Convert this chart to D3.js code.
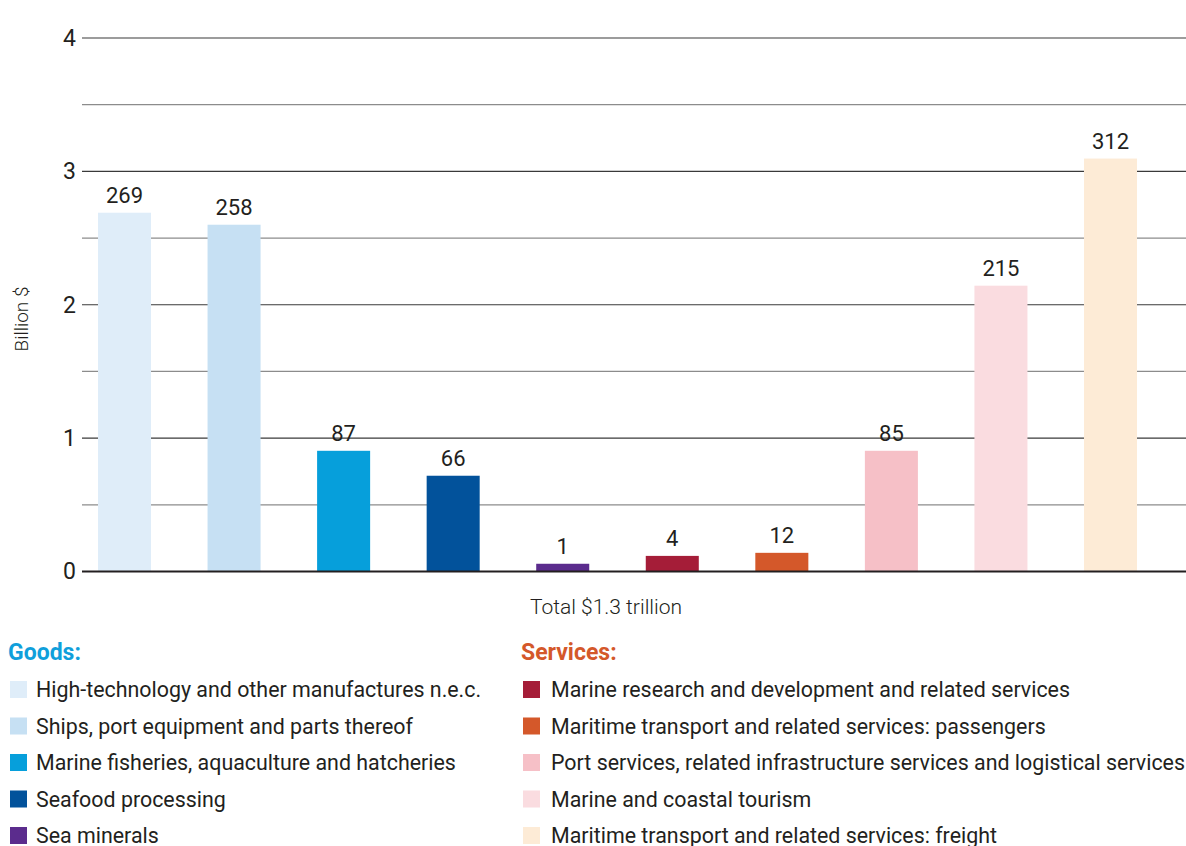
<html lang='en'>
<head>
  <meta charset='UTF-8'/>
  <title>Ocean economy exports by sector</title>
  <script src='https://d3js.org/d3.v7.min.js'></script>
  <style>
    body { margin: 0; background: #fff; }
    svg text { font-family: Roboto, 'Open Sans', sans-serif; fill: #231f20; }
  </style>
</head>
<body>
  <svg id='chart' width='1186' height='846'></svg>
</body>
</html>

<script>

// categories (legend order = bar order)
const categories = [
  'High-technology and other manufactures n.e.c.',
  'Ships, port equipment and parts thereof',
  'Marine fisheries, aquaculture and hatcheries',
  'Seafood processing',
  'Sea minerals',
  'Marine research and development and related services',
  'Maritime transport and related services: passengers',
  'Port services, related infrastructure services and logistical services',
  'Marine and coastal tourism',
  'Maritime transport and related services: freight'
];
const groups = ['goods', 'goods', 'goods', 'goods', 'goods',
                'services', 'services', 'services', 'services', 'services'];
// bar heights as drawn against the axis
const barHeights = [2.69, 2.60, 0.905, 0.718, 0.058, 0.117, 0.14, 0.905, 2.143, 3.096];
// printed labels above bars
const valueLabels = ['269', '258', '87', '66', '1', '4', '12', '85', '215', '312'];
const colors = ['#dfedf9', '#c6e0f3', '#069fdb', '#02529b', '#5b2c8d',
                '#a51d38', '#d4582a', '#f6c0c7', '#fadce0', '#fdebd6'];
const yTicks = [0, 1, 2, 3, 4];
const gridTicks = [0.5, 1, 1.5, 2, 2.5, 3, 3.5, 4];

const svg = d3.select('#chart');

const x = d3.scaleBand()
  .domain(d3.range(categories.length))
  .range([82, 1153])
  .paddingInner(0.516)
  .paddingOuter(0.146);

const y = d3.scaleLinear()
  .domain([0, 4])
  .range([571.5, 38]);

// gridlines
svg.append('g').selectAll('line')
  .data(gridTicks).enter()
  .append('line')
  .attr('x1', 82).attr('x2', 1186)
  .attr('y1', d => y(d)).attr('y2', d => y(d))
  .attr('stroke', d => d % 1 === 0 ? '#3a3a3a' : '#8c8c8c')
  .attr('stroke-width', 1.2);

// y axis labels
const yAxis = d3.axisLeft(y).tickValues(yTicks).tickFormat(d3.format('d')).tickSize(0).tickPadding(6);
const yg = svg.append('g').attr('transform', 'translate(82,0)').call(yAxis);
yg.select('.domain').remove();
yg.selectAll('text')
  .style('font-size', '23px')
  .style('font-family', 'Roboto, sans-serif')
  .attr('fill', '#231f20');

// bars
svg.append('g').selectAll('rect')
  .data(barHeights).enter()
  .append('rect')
  .attr('x', (d, i) => x(i))
  .attr('width', x.bandwidth())
  .attr('y', d => y(d))
  .attr('height', d => y(0) - y(d))
  .attr('fill', (d, i) => colors[i]);

// baseline
svg.append('line')
  .attr('x1', 82).attr('x2', 1186)
  .attr('y1', y(0)).attr('y2', y(0))
  .attr('stroke', '#231f20')
  .attr('stroke-width', 2);

// value labels
svg.append('g').selectAll('text')
  .data(barHeights).enter()
  .append('text')
  .attr('x', (d, i) => x(i) + x.bandwidth() / 2)
  .attr('y', d => y(d) - 10)
  .attr('text-anchor', 'middle')
  .style('font-size', '22px')
  .text((d, i) => valueLabels[i]);

// axis title
svg.append('text')
  .attr('transform', 'translate(28,319) rotate(-90)')
  .attr('text-anchor', 'middle')
  .style('font-size', '19px')
  .style('font-weight', 300)
  .text('Billion $');

svg.append('text')
  .attr('x', 606).attr('y', 614)
  .attr('text-anchor', 'middle')
  .style('font-size', '21px')
  .style('font-weight', 300)
  .text('Total $1.3 trillion');

// legend
const legendCols = {
  goods: {x: 10, title: 'Goods:', color: '#109fdb'},
  services: {x: 523, title: 'Services:', color: '#d4582a'}
};

Object.keys(legendCols).forEach(key => {
  const col = legendCols[key];
  const g = svg.append('g').attr('transform', `translate(${col.x},0)`);
  g.append('text')
    .attr('x', -2).attr('y', 660)
    .style('font-size', '23px')
    .style('font-weight', 700)
    .style('fill', col.color)
    .text(col.title);

  const items = d3.range(categories.length).filter(i => groups[i] === key);
  const rows = g.selectAll('.row').data(items).enter()
    .append('g')
    .attr('transform', (d, j) => `translate(0,${689 + j * 36.5})`);
  rows.append('rect')
    .attr('x', 0).attr('y', -8)
    .attr('width', 17).attr('height', 17)
    .attr('fill', d => colors[d]);
  rows.append('text')
    .attr('x', key === 'goods' ? 26 : 28).attr('y', 8)
    .style('font-size', '21.4px')
    .text(d => categories[d]);
});

</script>
